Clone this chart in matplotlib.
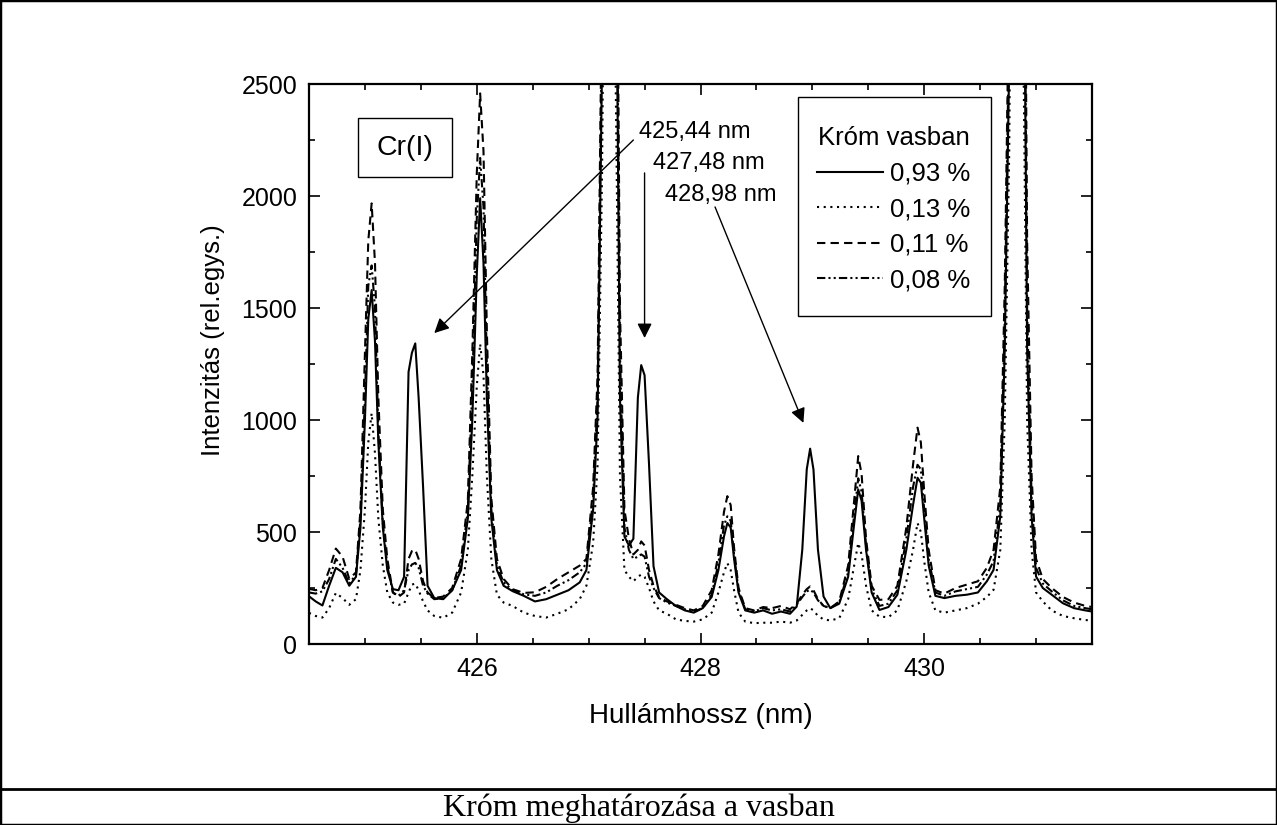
import matplotlib
matplotlib.use("Agg")
import matplotlib.pyplot as plt
from matplotlib.lines import Line2D
from matplotlib.patches import Rectangle
from matplotlib.ticker import MultipleLocator

plt.rcParams['font.family'] = ['Liberation Sans', 'DejaVu Sans']

# hullámhossz (nm)
wl = [424.50, 424.56, 424.62, 424.68, 424.74, 424.80, 424.86, 424.92, 424.96, 425.00,
      425.03, 425.06, 425.09, 425.12, 425.16, 425.20, 425.25, 425.30, 425.35, 425.39,
      425.42, 425.45, 425.48, 425.52, 425.56, 425.62, 425.70, 425.78, 425.86, 425.92,
      425.96, 426.00, 426.03, 426.06, 426.09, 426.13, 426.18, 426.24, 426.32, 426.42,
      426.52, 426.62, 426.72, 426.82, 426.92, 426.98, 427.04, 427.08, 427.12, 427.16,
      427.20, 427.24, 427.28, 427.32, 427.36, 427.40, 427.44, 427.47, 427.50, 427.54,
      427.58, 427.63, 427.70, 427.78, 427.86, 427.94, 428.02, 428.10, 428.16, 428.21,
      428.24, 428.27, 428.30, 428.34, 428.40, 428.48, 428.56, 428.64, 428.72, 428.80,
      428.86, 428.91, 428.95, 428.98, 429.01, 429.05, 429.10, 429.16, 429.24, 429.32,
      429.37, 429.41, 429.44, 429.48, 429.53, 429.60, 429.68, 429.76, 429.84, 429.90,
      429.94, 429.97, 430.00, 430.04, 430.10, 430.18, 430.28, 430.38, 430.48, 430.56,
      430.62, 430.68, 430.72, 430.76, 430.80, 430.84, 430.88, 430.92, 430.96, 431.00,
      431.06, 431.14, 431.24, 431.34, 431.44, 431.50]

# 0,93 % Cr
cr093 = [213, 190, 172, 260, 340, 320, 260, 300, 520, 1000,
         1450, 1580, 1350, 900, 520, 330, 245, 240, 300, 1215,
         1300, 1342, 1100, 700, 260, 205, 200, 240, 330, 560,
         1000, 1650, 1990, 1700, 1100, 560, 330, 260, 236, 215,
         190, 200, 220, 240, 275, 330, 600, 1015, 2600, 5000,
         6000, 3500, 1100, 480, 440, 470, 1100, 1245, 1200, 800,
         347, 230, 200, 170, 150, 140, 160, 210, 330, 480,
         540, 520, 380, 230, 150, 140, 150, 135, 145, 135,
         167, 421, 780, 872, 779, 421, 212, 160, 180, 300,
         520, 690, 640, 420, 230, 152, 165, 220, 420, 620,
         742, 720, 560, 350, 215, 205, 215, 220, 230, 280,
         331, 570, 1316, 2600, 5500, 6000, 4000, 1316, 570, 301,
         250, 220, 182, 160, 150, 145]

# 0,13 % Cr
cr013 = [139, 125, 118, 160, 228, 205, 175, 200, 330, 600,
         900, 1030, 850, 560, 350, 230, 185, 175, 180, 230,
         265, 270, 240, 190, 150, 125, 117, 140, 230, 420,
         750, 1150, 1340, 1200, 750, 380, 220, 185, 170, 140,
         125, 118, 135, 155, 200, 260, 450, 800, 2100, 4500,
         5500, 2600, 750, 330, 300, 280, 300, 310, 300, 250,
         190, 150, 135, 110, 103, 100, 110, 140, 230, 320,
         361, 330, 240, 140, 100, 93, 95, 95, 100, 95,
         105, 130, 150, 160, 150, 125, 110, 105, 115, 200,
         340, 451, 400, 260, 150, 122, 120, 150, 280, 420,
         540, 500, 370, 230, 150, 140, 150, 160, 180, 210,
         242, 420, 1000, 2200, 5000, 5500, 3000, 1000, 420, 230,
         190, 150, 125, 115, 107, 105]

# 0,11 % Cr
cr011 = [246, 240, 250, 330, 426, 390, 290, 320, 600, 1300,
         1800, 1967, 1700, 1100, 600, 380, 230, 210, 230, 380,
         415, 421, 380, 280, 230, 205, 212, 250, 380, 640,
         1300, 2100, 2458, 2200, 1400, 650, 380, 290, 245, 228,
         231, 255, 290, 320, 350, 380, 700, 1200, 3000, 5500,
         6500, 4200, 1500, 600, 470, 400, 420, 458, 440, 330,
         260, 210, 190, 175, 160, 150, 170, 240, 400, 590,
         660, 620, 430, 250, 160, 150, 165, 160, 170, 155,
         180, 220, 245, 257, 240, 200, 170, 160, 190, 350,
         620, 839, 760, 470, 260, 197, 200, 260, 520, 800,
         966, 900, 680, 420, 240, 225, 250, 265, 280, 340,
         421, 700, 1600, 3000, 6000, 6500, 4800, 1800, 750, 380,
         290, 250, 210, 185, 170, 165]

# 0,08 % Cr
cr008 = [230, 225, 235, 290, 380, 340, 270, 310, 560, 1100,
         1600, 1690, 1500, 950, 540, 350, 230, 215, 240, 330,
         355, 362, 340, 260, 225, 200, 205, 240, 350, 600,
         1150, 1900, 2170, 1950, 1250, 600, 350, 275, 240, 222,
         215, 230, 260, 285, 320, 360, 650, 1100, 2800, 5200,
         6200, 3800, 1300, 520, 420, 380, 390, 400, 390, 300,
         250, 205, 185, 170, 155, 145, 160, 220, 360, 530,
         570, 550, 400, 240, 155, 145, 160, 150, 155, 145,
         175, 210, 235, 242, 230, 195, 170, 160, 185, 320,
         560, 740, 680, 440, 245, 170, 180, 240, 470, 700,
         800, 780, 600, 380, 230, 215, 235, 245, 255, 310,
         370, 620, 1450, 2800, 5800, 6200, 4300, 1500, 650, 340,
         270, 235, 195, 170, 160, 155]

series = [("0,93 %", cr093, '-'),
          ("0,13 %", cr013, (0, (1, 2.2))),
          ("0,11 %", cr011, (0, (4, 2.5))),
          ("0,08 %", cr008, (0, (4, 1.5, 1, 1.5, 1, 1.5)))]

W, H = 1277, 825
fig = plt.figure(figsize=(W / 100, H / 100), dpi=100)
ax = fig.add_axes([309 / W, 1 - 644 / H, 783 / W, 560 / H])

for label, vals, ls in series:
    ax.plot(wl, vals, color='k', ls=ls, lw=1.5, label=label)

ax.set_xlim(424.5, 431.5)
ax.set_ylim(0, 2500)
ax.xaxis.set_major_locator(MultipleLocator(2))
ax.xaxis.set_minor_locator(MultipleLocator(0.5))
ax.yaxis.set_major_locator(MultipleLocator(500))
ax.yaxis.set_minor_locator(MultipleLocator(250))
ax.tick_params(which='both', direction='in', top=True, right=True, width=1.2,
               labelsize=18, color='k')
ax.tick_params(which='major', length=8)
ax.tick_params(which='minor', length=4.5)
ax.tick_params(axis='y', pad=8.5)
ax.tick_params(axis='x', pad=9)
for sp in ax.spines.values():
    sp.set_linewidth(1.6)

ax.set_xlabel("Hullámhossz (nm)", fontsize=20)
ax.set_ylabel("Intenzitás (rel.egys.)", fontsize=18.5)
ax.xaxis.set_label_coords(0.5, -0.105)
ax.yaxis.set_label_coords(-0.107, 0.543)

# Cr(I) felirat keretben
ax.add_patch(Rectangle((424.938, 2085), 0.84, 263, fc='w', ec='k', lw=1))
ax.text(425.358, 2214, "Cr(I)", fontsize=20.5, ha='center', va='center')

# vonalak jelölése nyilakkal
ax.text(427.45, 2286, "425,44 nm", fontsize=17, ha='left', va='center')
ax.text(427.575, 2147, "427,48 nm", fontsize=17, ha='left', va='center')
ax.text(427.68, 2004, "428,98 nm", fontsize=17, ha='left', va='center')
arrow = dict(arrowstyle='-|>', color='k', lw=1, mutation_scale=22,
             shrinkA=0, shrinkB=0)
ax.annotate('', xy=(425.62, 1388), xytext=(427.40, 2250), arrowprops=arrow)
ax.annotate('', xy=(427.50, 1366), xytext=(427.50, 2103), arrowprops=arrow)
ax.annotate('', xy=(428.92, 987), xytext=(428.13, 1951), arrowprops=arrow)

# jelmagyarázat: saját keret, benne a legend tartalma
ax.add_patch(Rectangle((798 / W, 1 - 316 / H), 193 / W, 219 / H,
                       transform=fig.transFigure, fc='w', ec='k', lw=1,
                       zorder=4))
leg = ax.legend(title="Króm vasban", loc='upper left',
                bbox_to_anchor=(817 / W, 1 - 126 / H),
                bbox_transform=fig.transFigure, fontsize=18.5, title_fontsize=18.5,
                handlelength=2.55, handletextpad=0.3, labelspacing=0.45,
                borderpad=0, frameon=False, borderaxespad=0)
leg.set_zorder(5)

# rámák és képaláírás
fig.add_artist(Rectangle((0, 0), 1, 1, transform=fig.transFigure, fill=False,
                         ec='k', lw=2.5))
fig.add_artist(Line2D([0, 1], [1 - 789 / H] * 2, transform=fig.transFigure,
                      color='k', lw=2))
fig.text(0.5, 1 - 808 / H, "Króm meghatározása a vasban", fontsize=23,
         family='Liberation Serif', ha='center', va='center')

fig.savefig("out.png", dpi=100)
